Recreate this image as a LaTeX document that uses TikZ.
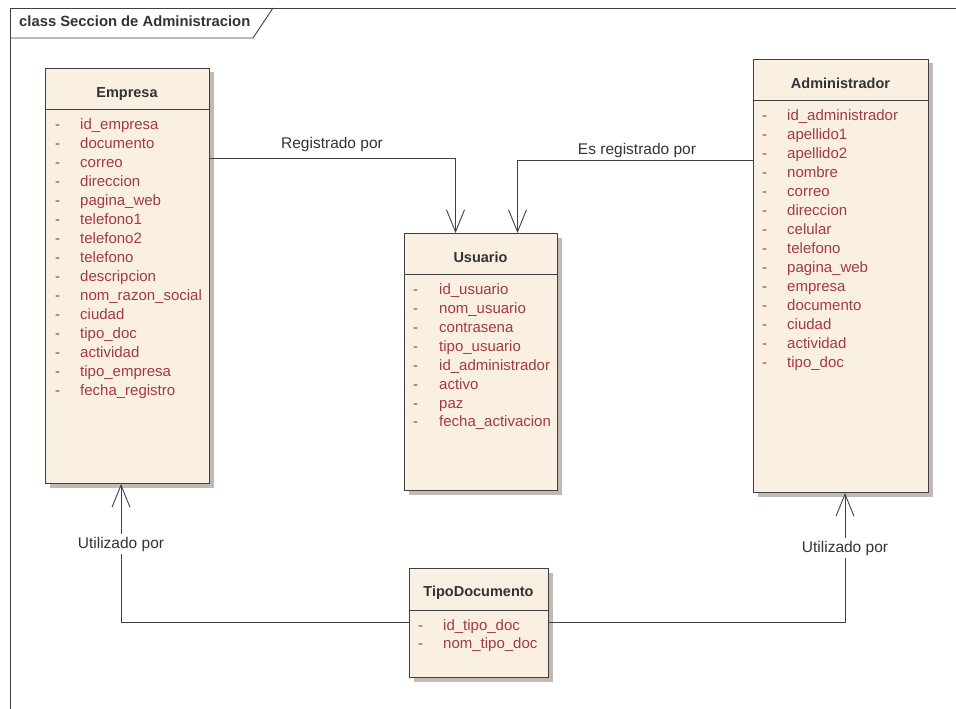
\documentclass[tikz,border=0pt]{standalone}
\usepackage{fontspec}
\setmainfont{Liberation Sans}
\usetikzlibrary{arrows.meta,shadows,positioning}
\definecolor{boxfill}{HTML}{FAF0E2}
\definecolor{shadowc}{HTML}{C2B8B4}
\definecolor{attrc}{HTML}{A33A3F}
\definecolor{linec}{HTML}{404040}
\definecolor{titlec}{HTML}{333333}
\tikzset{
  classbox/.style={draw=linec, line width=1pt, fill=boxfill, anchor=north west, inner sep=0pt,
    drop shadow={shadow xshift=4pt, shadow yshift=-4pt, fill=shadowc, opacity=1}},
  ctitle/.style={font=\fontsize{14.5}{17}\selectfont\bfseries, text=titlec, inner sep=0pt},
  attr/.style={font=\fontsize{15}{17}\selectfont, text=attrc, inner sep=0pt, anchor=mid west},
  assoc/.style={draw=linec, line width=0.9pt, -{Straight Barb[length=22pt,width=18pt,line width=0.9pt]}},
  lbl/.style={font=\fontsize{15.5}{17}\selectfont, text=titlec, inner sep=1pt},
  gaplbl/.style={font=\fontsize{15.5}{17}\selectfont, text=titlec, fill=white, inner sep=3pt},
  frame/.style={draw=linec, line width=0.9pt}
}
\begin{document}
\begin{tikzpicture}[x=1pt,y=-1pt]
\useasboundingbox (0,0) rectangle (956,709);
% frame
\draw[frame] (956,8) -- (10,8) -- (10,709);
\draw[frame] (10,38) -- (253,38) -- (273,8);
\node[anchor=mid west, font=\fontsize{14.8}{17}\selectfont\bfseries, text=titlec, inner sep=0pt] (ftitle) at (19,24) {class Seccion de Administracion};

% Empresa
\node[classbox, minimum width=164pt, minimum height=415pt] (emp) at (45,68) {};
\draw[linec, line width=1pt] (45,109) -- (209,109);
\node[ctitle] (empt) at (127,94) {Empresa};
\foreach \t [count=\i from 0] in {id\_empresa,documento,correo,direccion,pagina\_web,telefono1,telefono2,telefono,descripcion,nom\_razon\_social,ciudad,tipo\_doc,actividad,tipo\_empresa,fecha\_registro}{
  \node[attr] (empd\i) at (55,127+19*\i) {-};
  \node[attr] (empa\i) at (80,127+19*\i) {\t};
}

% Usuario
\node[classbox, minimum width=153pt, minimum height=257pt] (usu) at (404,233) {};
\draw[linec, line width=1pt] (404,274) -- (557,274);
\node[ctitle] (usut) at (480.5,257) {Usuario};
\foreach \t [count=\i from 0] in {id\_usuario,nom\_usuario,contrasena,tipo\_usuario,id\_administrador,activo,paz,fecha\_activacion}{
  \node[attr] (usud\i) at (413,292+18.9*\i) {-};
  \node[attr] (usua\i) at (439,292+18.9*\i) {\t};
}

% Administrador
\node[classbox, minimum width=175pt, minimum height=433pt] (adm) at (753,59) {};
\draw[linec, line width=1pt] (753,100) -- (928,100);
\node[ctitle] (admt) at (840.5,83) {Administrador};
\foreach \t [count=\i from 0] in {id\_administrador,apellido1,apellido2,nombre,correo,direccion,celular,telefono,pagina\_web,empresa,documento,ciudad,actividad,tipo\_doc}{
  \node[attr] (admd\i) at (762,118+19*\i) {-};
  \node[attr] (adma\i) at (787,118+19*\i) {\t};
}

% TipoDocumento
\node[classbox, minimum width=139pt, minimum height=109pt] (tip) at (409,568) {};
\draw[linec, line width=1pt] (409,610) -- (548,610);
\node[ctitle] (tipt) at (478.5,593) {TipoDocumento};
\foreach \t [count=\i from 0] in {id\_tipo\_doc,nom\_tipo\_doc}{
  \node[attr] (tipd\i) at (418,628+18*\i) {-};
  \node[attr] (tipa\i) at (443,628+18*\i) {\t};
}

% connectors
\draw[assoc] (emp.north east) ++(0,90) -| ([xshift=-25.5pt]usu.north);
\node[lbl] (l1) at (332,144) {Registrado por};

\draw[assoc] (adm.north west) ++(0,101) -| ([xshift=36.5pt]usu.north);
\node[lbl] (l2) at (637,150) {Es registrado por};

\draw[assoc] (tip.north west) ++(0,54) -| (emp.south -| 121,0);
\node[gaplbl] (l3) at (121,544) {Utilizado por};

\draw[assoc] (tip.north east) ++(0,54) -| (adm.south -| 845,0);
\node[gaplbl] (l4) at (845,548) {Utilizado por};
\end{tikzpicture}
\end{document}
